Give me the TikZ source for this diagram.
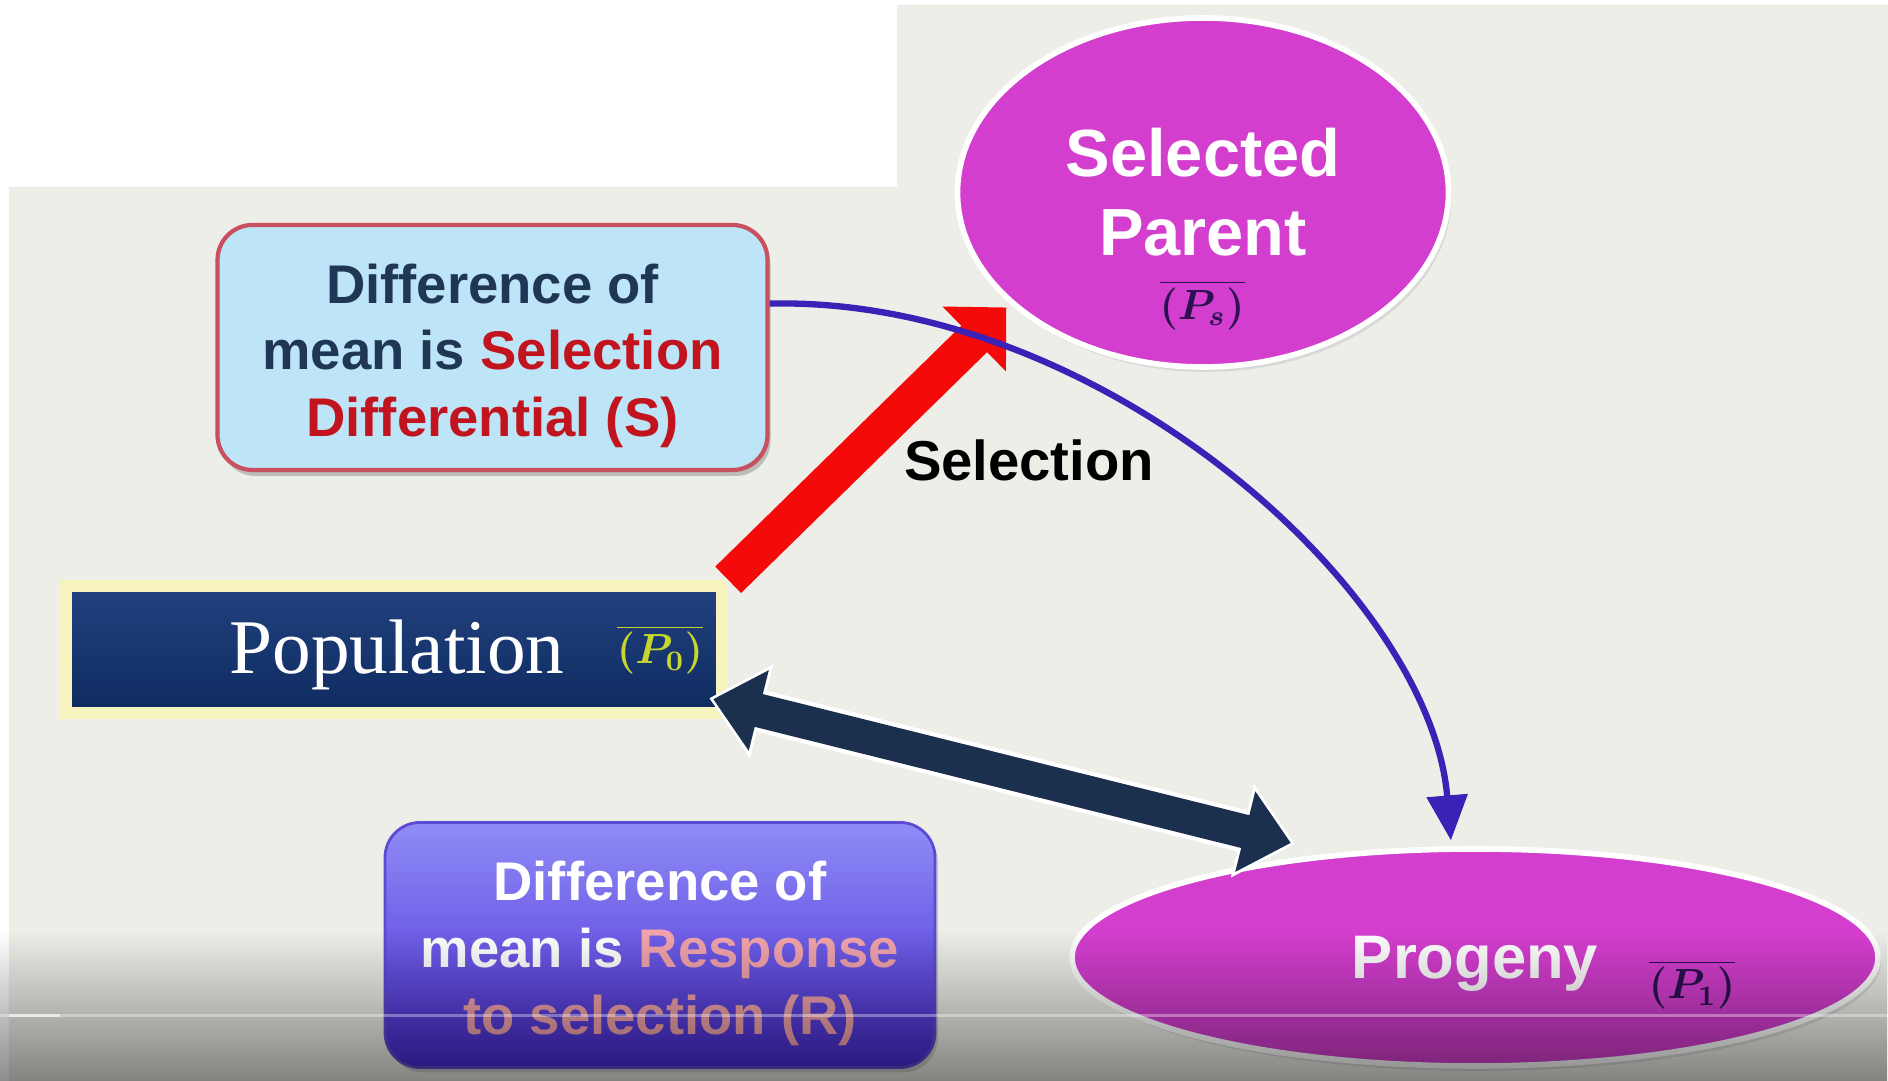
\documentclass[tikz,border=0pt]{standalone}
\usepackage{fontspec}
\setsansfont{Liberation Sans}
\newfontfamily\popfont{Liberation Serif}
\usetikzlibrary{arrows.meta,shapes.geometric,shadows,fadings,calc}
\definecolor{bgGray}{HTML}{EEEEE9}
\definecolor{skyFill}{HTML}{BEE5F7}
\definecolor{skyEdge}{HTML}{C9505E}
\definecolor{inkNavy}{HTML}{1F3654}
\definecolor{inkRed}{HTML}{C2141E}
\definecolor{magentaFill}{HTML}{D43ECF}
\definecolor{meanInk}{HTML}{2B1150}
\definecolor{popNavy}{HTML}{0E2B60}
\definecolor{popTop}{HTML}{22427F}
\definecolor{popGlow}{HTML}{F6F3BE}
\definecolor{popMean}{HTML}{C6D62F}
\definecolor{selRed}{HTML}{F50A0A}
\definecolor{curveBlue}{HTML}{3A22B6}
\definecolor{linkNavy}{HTML}{1B2F4F}
\definecolor{violetTop}{HTML}{8F8CF6}
\definecolor{violetBot}{HTML}{4A2BD6}
\definecolor{violetEdge}{HTML}{5B4BD2}
\definecolor{inkPink}{HTML}{F2A4AC}
\newcommand{\boxstrut}{\rule{0pt}{0.56cm}}
\tikzfading[name=barfade, top color=transparent!100, bottom color=transparent!55]
\begin{document}
\begin{tikzpicture}[%
    diffbox/.style={
      rectangle,
      rounded corners=0.35cm,
      minimum width=5.5cm,
      minimum height=2.45cm,
      align=center,
      font=\sffamily\bfseries\fontsize{15.5}{19}\selectfont
    },
    meanblob/.style={
      ellipse,
      draw=white,
      line width=1.6pt,
      fill=magentaFill,
      inner sep=0pt,
      drop shadow={opacity=0.2,shadow xshift=0.03cm,shadow yshift=-0.05cm}
    },
    blobtext/.style={
      text=white,
      align=center,
      inner sep=0pt,
      font=\sffamily\bfseries\fontsize{19}{22.6}\selectfont
    },
    popbar/.style={
      rectangle,
      draw=popGlow,
      line width=3.5pt,
      top color=popTop,
      middle color=popNavy,
      bottom color=popNavy,
      minimum width=6.56cm,
      minimum height=1.27cm
    },
    meanmark/.style={
      inner sep=0pt,
      text=meanInk,
      font=\fontsize{12}{14}\selectfont\boldmath
    },
    selarrow/.style={
      draw=selRed,
      line width=10.5pt,
      -{Triangle[length=0.45cm,width=0.88cm]}
    },
    curvearrow/.style={
      draw=curveBlue,
      line width=1.8pt,
      -{Triangle[length=0.45cm,width=0.4cm]}
    },
    linkarrow/.style={
      draw=linkNavy,
      line width=9.6pt,
      {Triangle[length=0.47cm,width=0.8cm]}-{Triangle[length=0.47cm,width=0.8cm]}
    },
  ]
    \useasboundingbox (0,0) rectangle (18.88,10.81);
    \fill[white] (0,0) rectangle (18.88,10.81);
    \fill[bgGray] (0.09,0) -- (0.09,8.94) -- (8.97,8.94) -- (8.97,10.76)
      -- (18.88,10.76) -- (18.88,0) -- cycle;

    \node[diffbox, fill=skyFill, draw=skyEdge, line width=1.2pt, text=inkNavy,
      drop shadow={opacity=0.45,shadow xshift=0.03cm,shadow yshift=-0.06cm}]
      (sdiff) at (4.925,7.335)
      {\boxstrut Difference of\\mean is \textcolor{inkRed}{Selection}\\\textcolor{inkRed}{Differential (S)}};
    \node[diffbox, top color=violetTop, bottom color=violetBot, draw=violetEdge,
      line width=0.8pt, text=white,
      drop shadow={opacity=0.3,shadow xshift=0.03cm,shadow yshift=-0.05cm}]
      (rdiff) at (6.6,1.36)
      {\boxstrut Difference of\\mean is \textcolor{inkPink}{Response}\\\textcolor{inkPink}{to selection (R)}};

    \node[meanblob, minimum width=4.91cm, minimum height=3.49cm] (sel) at (12.03,8.885) {};
    \node[meanblob, minimum width=8.06cm, minimum height=2.17cm] (prog) at (14.75,1.235) {};
    \node[popbar] (pop) at (3.94,4.315) {};

    \node[blobtext] (selT) at (12.03,8.89) {Selected\\Parent};
    \node[meanmark] (selM) at (12.02,7.76) {$\overline{(P_s)}$};
    \node[blobtext, anchor=base, font=\sffamily\bfseries\fontsize{17.5}{20}\selectfont]
      (progT) at (14.75,1.02) {Progeny};
    \node[meanmark, anchor=base] (progM) at (16.92,0.82) {$\overline{(P_1)}$};
    \node[anchor=base, text=white, inner sep=0pt, font=\popfont\fontsize{22}{26}\selectfont]
      (popT) at (3.97,4.07) {Population};
    \node[meanmark, anchor=base, text=popMean] (popM) at (6.6,4.17) {$\overline{(P_0)}$};
    \node[anchor=base, inner sep=0pt, font=\sffamily\bfseries\fontsize{16}{19}\selectfont]
      (selL) at (10.29,6.0) {Selection};

    \coordinate (popTip) at ($(pop.south east)+(-0.15,0.2)$);
    \coordinate (progTip) at ($(prog.150)+(-0.1,0.14)$);

    \draw[selarrow, shorten >=0.05cm] (pop.north east) -- (sel.210);
    \draw[curvearrow, shorten >=0.06cm] (sdiff.9) .. controls (11.0,7.85) and (14.3,4.9) .. (prog.102);
    \draw[linkarrow, draw=white, line width=12pt,
      {Triangle[length=0.54cm,width=0.93cm]}-{Triangle[length=0.54cm,width=0.93cm]},
      shorten <=-0.04cm, shorten >=-0.04cm] (popTip) -- (progTip);
    \draw[linkarrow] (popTip) -- (progTip);

    \fill[black, path fading=barfade] (0,0) rectangle (18.88,1.5);
    \draw[white, opacity=0.35, line width=0.03cm] (0,0.65) -- (18.88,0.65);
    \draw[white, opacity=0.6, line width=0.03cm] (0.09,0.65) -- (0.6,0.65);
  \end{tikzpicture}
\end{document}
